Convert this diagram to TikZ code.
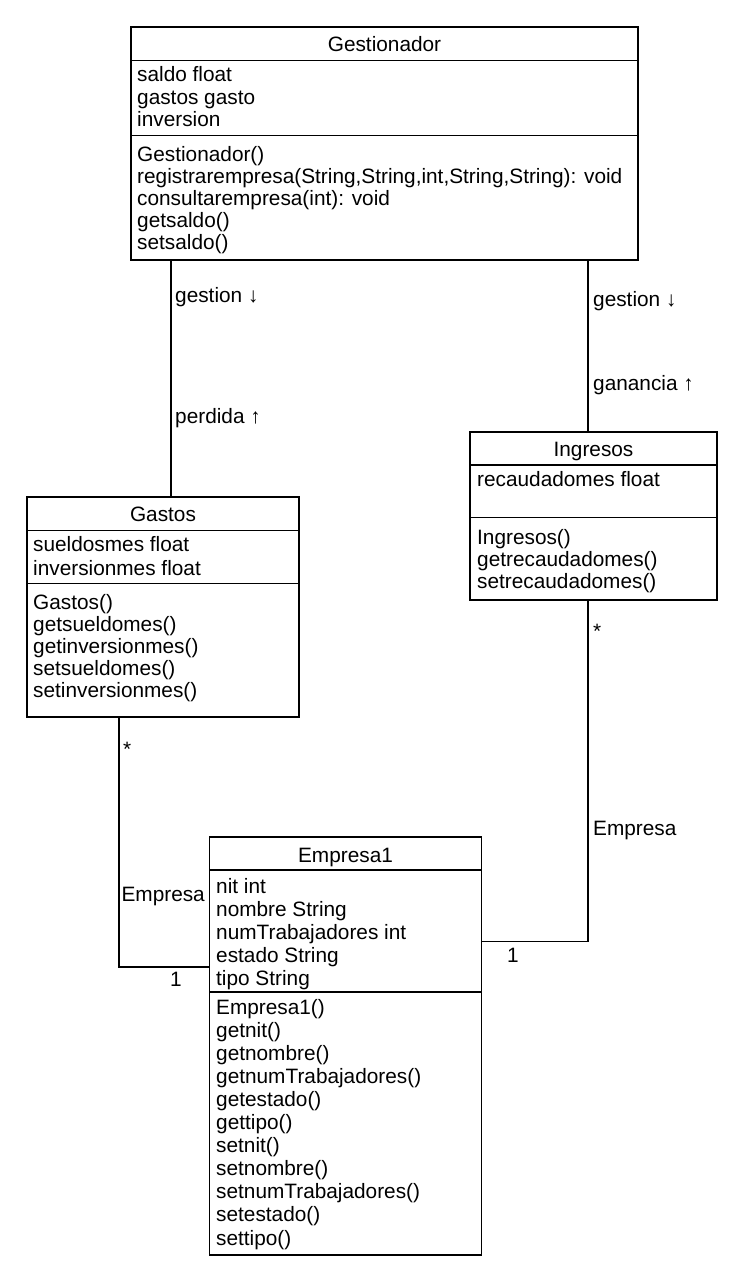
\documentclass[tikz,border=0pt]{standalone}
\usepackage{fontspec}
\setmainfont{Liberation Sans}
\begin{document}
\begin{tikzpicture}[x=1pt,y=-1pt,
  classbox/.style={draw, line width=1.2pt, inner sep=0pt, outer sep=0pt, anchor=north west},
  divider/.style={line width=1.2pt},
  member/.style={anchor=base west, inner sep=0pt, font=\fontsize{20.8}{24}\selectfont},
  title/.style={anchor=base, inner sep=0pt, font=\fontsize{20.8}{24}\selectfont},
  assoc/.style={line width=1.2pt}]
\useasboundingbox[fill=white] (0,0) rectangle (744,1280);

% class boxes
\node[classbox, minimum width=507pt, minimum height=233pt] (gest) at (131,27) {};
\node[classbox, minimum width=272pt, minimum height=220pt] (gastos) at (27,497) {};
\node[classbox, minimum width=247pt, minimum height=168pt] (ing) at (470,432) {};
\node[classbox, minimum width=272pt, minimum height=418pt] (emp) at (209.5,837) {};

% compartment dividers
\draw[divider] (gest.west |- 0,60.5) -- (gest.east |- 0,60.5);
\draw[divider] (gest.west |- 0,135.5) -- (gest.east |- 0,135.5);
\draw[divider] (gastos.west |- 0,530.5) -- (gastos.east |- 0,530.5);
\draw[divider] (gastos.west |- 0,583.5) -- (gastos.east |- 0,583.5);
\draw[divider] (ing.west |- 0,465) -- (ing.east |- 0,465);
\draw[divider] (ing.west |- 0,517.5) -- (ing.east |- 0,517.5);
\draw[divider] (emp.west |- 0,870) -- (emp.east |- 0,870);
\draw[divider] (emp.west |- 0,992) -- (emp.east |- 0,992);

% class names
\node[title] (gest-t) at (384.5,51.5) {Gestionador};
\node[title] (gastos-t) at (163,521.5) {Gastos};
\node[title] (ing-t) at (593.5,456.5) {Ingresos};
\node[title] (emp-t) at (345.5,862) {Empresa1};

% Gestionador members
\foreach \t [count=\i] in {saldo float, gastos gasto, inversion}
  \node[member] (gest-a\i) at (137,{81.7+22.5*(\i-1)}) {\t};
\foreach \t [count=\i] in {Gestionador(), {registrarempresa(String,String,int,String,String): void}, consultarempresa(int): void, getsaldo(), setsaldo()}
  \node[member] (gest-m\i) at (137,{161.7+22*(\i-1)}) {\t};

% Gastos members
\foreach \t [count=\i] in {sueldosmes float, inversionmes float}
  \node[member] (gastos-a\i) at (33,{551.7+23.3*(\i-1)}) {\t};
\foreach \t [count=\i] in {Gastos(), getsueldomes(), getinversionmes(), setsueldomes(), setinversionmes()}
  \node[member] (gastos-m\i) at (33,{609.5+22*(\i-1)}) {\t};

% Ingresos members
\node[member] (ing-a1) at (477,486.7) {recaudadomes float};
\foreach \t [count=\i] in {Ingresos(), getrecaudadomes(), setrecaudadomes()}
  \node[member] (ing-m\i) at (477,{544+22.3*(\i-1)}) {\t};

% Empresa1 members
\foreach \t [count=\i] in {nit int, nombre String, numTrabajadores int, estado String, tipo String}
  \node[member] (emp-a\i) at (216,{893+23*(\i-1)}) {\t};
\foreach \t [count=\i] in {Empresa1(), getnit(), getnombre(), getnumTrabajadores(), getestado(), gettipo(), setnit(), setnombre(), setnumTrabajadores(), setestado(), settipo()}
  \node[member] (emp-m\i) at (216,{1014+23.1*(\i-1)}) {\t};

% associations
\coordinate (xl) at (171,0);
\coordinate (xr) at (588,0);
\coordinate (xg) at (119,0);
\coordinate (yl) at (0,967);
\coordinate (yr) at (0,941.5);
\draw[assoc] (gest.south -| xl) -- (gastos.north -| xl);
\draw[assoc] (gest.south -| xr) -- (ing.north -| xr);
\draw[assoc] (gastos.south -| xg) |- (emp.west |- yl);
\draw[assoc] (ing.south -| xr) |- (emp.east |- yr);

% association labels
\node[member] (l-gest1) at (175,302) {gestion ↓};
\node[member] (l-perd) at (175,423) {perdida ↑};
\node[member] (l-gest2) at (593,306) {gestion ↓};
\node[member] (l-gan) at (593,390) {ganancia ↑};
\node[member] (l-star1) at (123,756) {*};
\node[member, anchor=base east] (l-emp1) at (205,901.7) {Empresa};
\node[member, anchor=base] (l-one1) at (176,986.7) {1};
\node[member] (l-star2) at (593,638) {*};
\node[member] (l-emp2) at (593,835) {Empresa};
\node[member, anchor=base] (l-one2) at (513,962) {1};
\end{tikzpicture}
\end{document}
